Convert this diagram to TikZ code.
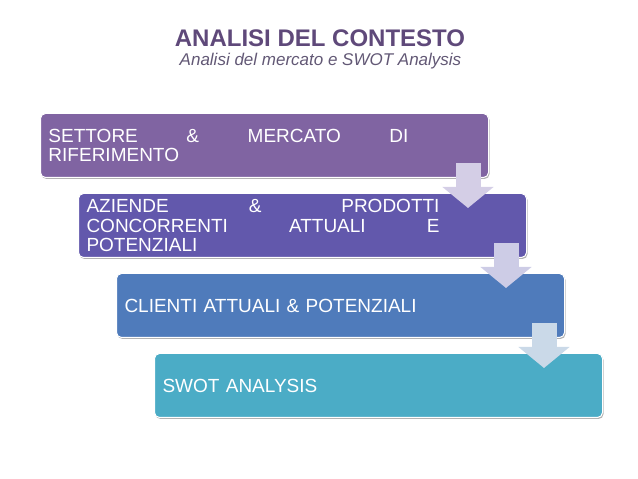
\documentclass[tikz,border=0pt]{standalone}
\usepackage{fontspec}
\setmainfont{Liberation Sans}
\usepackage{xcolor}
\definecolor{titlepurple}{HTML}{5F497A}
\definecolor{subpurple}{HTML}{625875}
\definecolor{settore}{HTML}{8064A2}
\definecolor{aziende}{HTML}{6258AC}
\definecolor{clienti}{HTML}{4F7BBB}
\definecolor{swot}{HTML}{4BACC6}
\definecolor{arrowA}{HTML}{D4CEE6}
\definecolor{arrowB}{HTML}{CDCCE6}
\definecolor{arrowC}{HTML}{CAD9E8}
\usetikzlibrary{arrows.meta, positioning, shadows}

\begin{document}
\begin{tikzpicture}[
    node distance=15pt,
    every node/.style={font=\fontsize{19}{19.5}\selectfont},
    box/.style={rectangle, draw=white, line width=1pt, rounded corners=5pt, minimum height=64pt, minimum width=448pt, text width=432pt, inner xsep=8pt, align=left, text=white, drop shadow={shadow xshift=1pt, shadow yshift=-1.5pt, opacity=0.3, fill=black}},
    flow/.style={line width=25pt, -{Triangle[width=50pt,length=21pt]}}
]
\useasboundingbox (0,0) rectangle (638pt,479pt);
\node[font=\bfseries\fontsize{24}{28}\selectfont, text=titlepurple, anchor=base] (title) at (320pt,432pt) {ANALISI DEL CONTESTO};
\node[font=\itshape\fontsize{17}{20}\selectfont, text=subpurple, anchor=base] (subtitle) at (320.5pt,413pt) {Analisi del mercato e SWOT Analysis};
\node[box, fill=settore, anchor=north west] (1) at (40pt,366pt) {\makebox[360pt][l]{SETTORE\hfill\&\hfill MERCATO\hfill DI}\\RIFERIMENTO};
\node[box, fill=aziende, below=of 1, xshift=38pt] (2) {\makebox[353pt][l]{AZIENDE\hfill\&\hfill PRODOTTI}\\\makebox[353pt][l]{CONCORRENTI\hfill ATTUALI\hfill E}\\POTENZIALI};
\node[box, fill=clienti, below=of 2, xshift=38pt] (3) {CLIENTI ATTUALI \& POTENZIALI};
\node[box, fill=swot, below=of 3, xshift=38pt] (4) {SWOT ANALYSIS};
\draw[flow, draw=arrowA] ([xshift=-21pt,yshift=15pt]1.south east) -- ([xshift=-59pt,yshift=-15pt]2.north east);
\draw[flow, draw=arrowB] ([xshift=-21pt,yshift=15pt]2.south east) -- ([xshift=-59pt,yshift=-15pt]3.north east);
\draw[flow, draw=arrowC] ([xshift=-21pt,yshift=15pt]3.south east) -- ([xshift=-59pt,yshift=-15pt]4.north east);
\end{tikzpicture}
\end{document}
